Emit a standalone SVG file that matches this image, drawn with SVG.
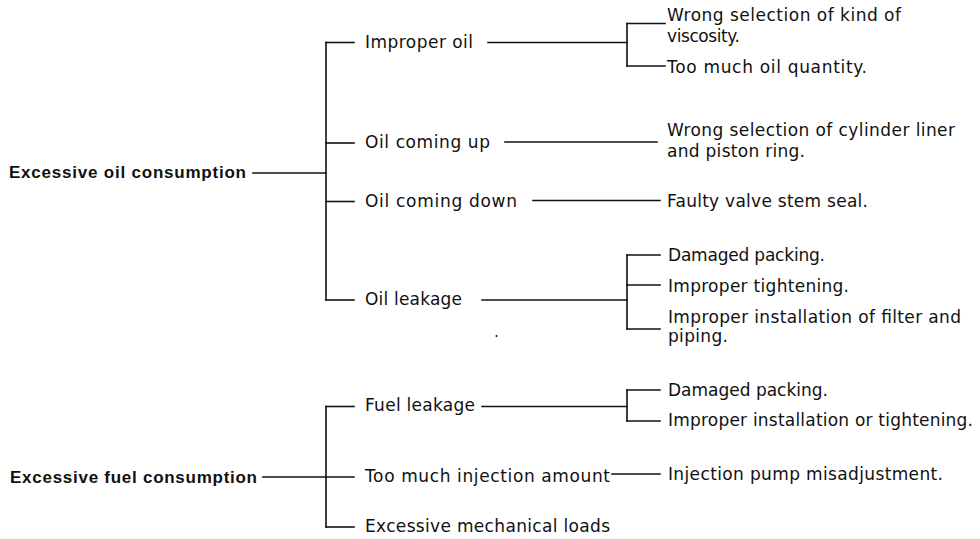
<svg xmlns="http://www.w3.org/2000/svg" width="980" height="539" viewBox="0 0 980 539">
<style>
text{font-family:"DejaVu Sans","Liberation Sans",sans-serif;font-size:17px;fill:#111}
.b{font-family:"Liberation Sans",Arial,sans-serif;font-weight:bold;font-size:17px}
.c line{stroke:#111;stroke-width:1.6;stroke-linecap:square}
</style>
<rect width="980" height="539" fill="#fff"/>
<g class="c" id="connectors">
<line x1="253" y1="173" x2="326" y2="173"/>
<line x1="326" y1="42.5" x2="326" y2="300"/>
<line x1="326" y1="42.5" x2="354" y2="42.5"/>
<line x1="326" y1="143" x2="354" y2="143"/>
<line x1="326" y1="201.5" x2="354" y2="201.5"/>
<line x1="326" y1="300" x2="354" y2="300"/>
<line x1="488" y1="42.5" x2="627" y2="42.5"/>
<line x1="627" y1="23.5" x2="627" y2="66"/>
<line x1="627" y1="23.5" x2="665" y2="23.5"/>
<line x1="627" y1="66" x2="665" y2="66"/>
<line x1="505" y1="142" x2="657" y2="142"/>
<line x1="533" y1="200.5" x2="660" y2="200.5"/>
<line x1="482" y1="300" x2="627" y2="300"/>
<line x1="627" y1="255" x2="627" y2="329"/>
<line x1="627" y1="255" x2="660" y2="255"/>
<line x1="627" y1="285" x2="660" y2="285"/>
<line x1="627" y1="329" x2="660" y2="329"/>
<line x1="263" y1="477" x2="354" y2="477"/>
<line x1="326" y1="406.5" x2="326" y2="527"/>
<line x1="326" y1="406.5" x2="354" y2="406.5"/>
<line x1="326" y1="527" x2="354" y2="527"/>
<line x1="482" y1="406.5" x2="627" y2="406.5"/>
<line x1="627" y1="390" x2="627" y2="421"/>
<line x1="627" y1="390" x2="660" y2="390"/>
<line x1="627" y1="421" x2="660" y2="421"/>
<line x1="612" y1="474" x2="660" y2="474"/>
</g>
<circle cx="496.5" cy="336" r="1" fill="#111"/>
<g id="oil-root"><text class="b" x="9" y="177.5" textLength="237" lengthAdjust="spacing">Excessive oil consumption</text></g>
<g id="improper-oil"><text x="365" y="47.5" textLength="108" lengthAdjust="spacing">Improper oil</text></g>
<g id="oil-coming-up"><text x="365" y="148" textLength="125" lengthAdjust="spacing">Oil coming up</text></g>
<g id="oil-coming-down"><text x="365" y="207" textLength="152" lengthAdjust="spacing">Oil coming down</text></g>
<g id="oil-leakage"><text x="365" y="305" textLength="97" lengthAdjust="spacing">Oil leakage</text></g>
<g id="wrong-viscosity"><text x="667" y="21" textLength="234" lengthAdjust="spacing">Wrong selection of kind of</text><text x="667" y="42" textLength="73" lengthAdjust="spacing">viscosity.</text></g>
<g id="too-much-oil"><text x="667" y="73" textLength="200" lengthAdjust="spacing">Too much oil quantity.</text></g>
<g id="wrong-liner"><text x="667" y="136" textLength="288" lengthAdjust="spacing">Wrong selection of cylinder liner</text><text x="667" y="157" textLength="138" lengthAdjust="spacing">and piston ring.</text></g>
<g id="valve-seal"><text x="667" y="206.5" textLength="201" lengthAdjust="spacing">Faulty valve stem seal.</text></g>
<g id="damaged-packing-1"><text x="668" y="260.5" textLength="157" lengthAdjust="spacing">Damaged packing.</text></g>
<g id="improper-tightening"><text x="668" y="291.5" textLength="181" lengthAdjust="spacing">Improper tightening.</text></g>
<g id="filter-piping"><text x="668" y="323" textLength="293" lengthAdjust="spacing">Improper installation of filter and</text><text x="668" y="342" textLength="60" lengthAdjust="spacing">piping.</text></g>
<g id="fuel-root"><text class="b" x="10" y="482.5" textLength="247" lengthAdjust="spacing">Excessive fuel consumption</text></g>
<g id="fuel-leakage"><text x="365" y="411" textLength="110" lengthAdjust="spacing">Fuel leakage</text></g>
<g id="too-much-injection"><text x="365" y="482" textLength="245" lengthAdjust="spacing">Too much injection amount</text></g>
<g id="mech-loads"><text x="365" y="532" textLength="245" lengthAdjust="spacing">Excessive mechanical loads</text></g>
<g id="damaged-packing-2"><text x="668" y="395.5" textLength="160" lengthAdjust="spacing">Damaged packing.</text></g>
<g id="install-tightening"><text x="668" y="426" textLength="305" lengthAdjust="spacing">Improper installation or tightening.</text></g>
<g id="pump-misadj"><text x="668" y="480" textLength="275" lengthAdjust="spacing">Injection pump misadjustment.</text></g>
</svg>
